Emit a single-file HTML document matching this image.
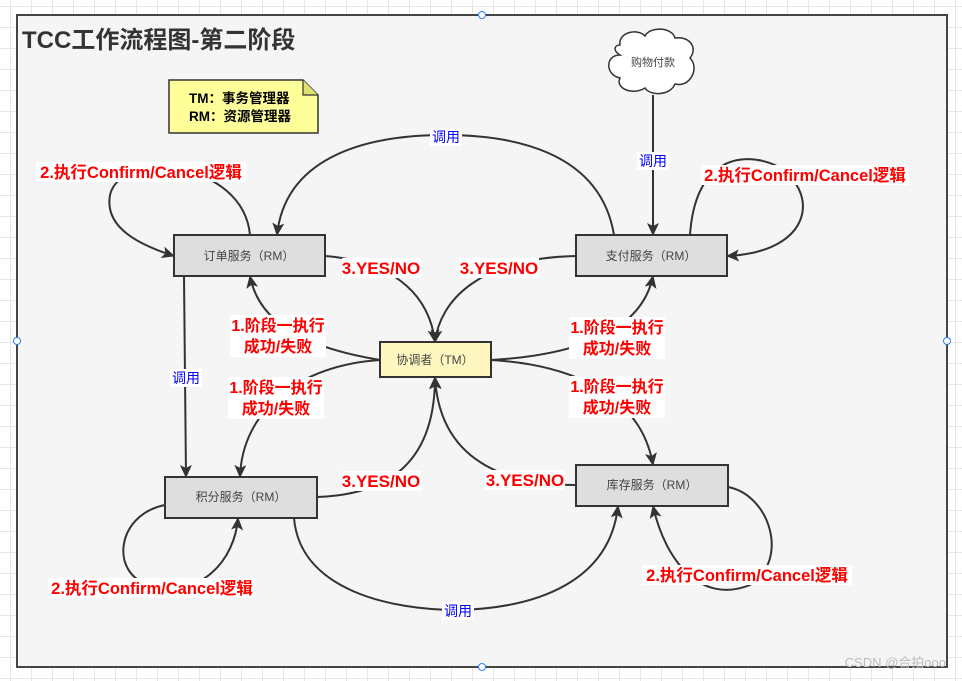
<!DOCTYPE html>
<html><head><meta charset="utf-8"><style>
html,body{margin:0;padding:0;}
body{width:962px;height:681px;overflow:hidden;background-color:#fff;
background-image:linear-gradient(#e6e6e6 1px,transparent 1px),linear-gradient(90deg,#e6e6e6 1px,transparent 1px);background-size:21px 21px;background-position:10px 6px;
font-family:"Liberation Sans","Noto Sans CJK SC",sans-serif;}
svg text{font-family:"Liberation Sans","Noto Sans CJK SC",sans-serif;}
</style></head><body>
<svg width="962" height="681" xmlns="http://www.w3.org/2000/svg" style="position:absolute;left:0;top:0">
<defs>
<marker id="a" markerWidth="14" markerHeight="12" refX="12" refY="6" orient="auto" markerUnits="userSpaceOnUse">
<path d="M0,0 L13,6 L0,12 L3,6 Z" fill="#333"/></marker>
</defs>
<rect x="17" y="15" width="930" height="652" fill="#f5f5f5" stroke="#444" stroke-width="2"/>
<circle cx="482" cy="15" r="3.5" fill="#fff" stroke="#2a7fff"/>
<circle cx="482" cy="667" r="3.5" fill="#fff" stroke="#2a7fff"/>
<circle cx="17" cy="341" r="3.5" fill="#fff" stroke="#2a7fff"/>
<circle cx="947" cy="341" r="3.5" fill="#fff" stroke="#2a7fff"/>
<text x="22" y="48" font-size="24" font-weight="bold" fill="#333">TCC工作流程图-第二阶段</text>

<!-- note -->
<path d="M169,80 L303,80 L318,95 L318,133 L169,133 Z" fill="#ffff99" stroke="#333" stroke-width="1.5"/>
<path d="M303,80 L303,95 L318,95" fill="#e0e070" stroke="#333" stroke-width="1.2"/>
<text x="189" y="103" font-size="13.5" font-weight="bold" fill="#000">TM：事务管理器</text>
<text x="189" y="121" font-size="13.5" font-weight="bold" fill="#000">RM：资源管理器</text>

<!-- cloud -->
<path d="M620,45 C618,32 638,28 645,36 C650,26 672,27 675,38 C690,36 698,48 690,58 C700,68 690,88 675,84 C670,96 650,96 645,88 C632,96 615,88 620,78 C605,75 605,55 620,55 C612,50 615,45 620,45 Z" fill="#fff" stroke="#333" stroke-width="1.5"/>
<text x="653" y="66" font-size="11" fill="#444" text-anchor="middle">购物付款</text>

<g fill="none" stroke="#333" stroke-width="2">
<path d="M250,235 C243,160 120,150 110,195 C104,228 140,245 174,256" marker-end="url(#a)"/>
<path d="M614,235 C600,150 510,135 445,135 C360,135 285,160 277,235" marker-end="url(#a)"/>
<path d="M653,95 L653,235" marker-end="url(#a)"/>
<path d="M690,235 C695,160 740,150 775,165 C820,190 815,252 727,256" marker-end="url(#a)"/>
<path d="M325,256 C400,262 430,300 435,342" marker-end="url(#a)"/>
<path d="M576,256 C480,258 440,300 435,342" marker-end="url(#a)"/>
<path d="M380,360 C320,350 260,330 250,276" marker-end="url(#a)"/>
<path d="M380,360 C300,365 242,410 240,477" marker-end="url(#a)"/>
<path d="M491,360 C580,355 642,330 653,276" marker-end="url(#a)"/>
<path d="M491,360 C580,365 642,400 653,465" marker-end="url(#a)"/>
<path d="M317,497 C380,495 435,470 435,377" marker-end="url(#a)"/>
<path d="M576,485 C520,485 440,470 435,377" marker-end="url(#a)"/>
<path d="M184,276 L186,477" marker-end="url(#a)"/>
<path d="M165,505 C115,515 110,575 150,585 C200,600 235,560 238,518" marker-end="url(#a)"/>
<path d="M294,518 C300,590 390,610 458,610 C540,608 610,580 618,506" marker-end="url(#a)"/>
<path d="M728,487 C770,495 790,560 750,585 C700,605 665,560 653,506" marker-end="url(#a)"/>
</g>

<!-- nodes -->
<g stroke="#333" stroke-width="2">
<rect x="174" y="235" width="151" height="41" fill="#dedede"/>
<rect x="576" y="235" width="151" height="41" fill="#dedede"/>
<rect x="380" y="342" width="111" height="35" fill="#fff7c0"/>
<rect x="165" y="477" width="152" height="41" fill="#dedede"/>
<rect x="576" y="465" width="152" height="41" fill="#dedede"/>
</g>
<g font-size="12" fill="#444" text-anchor="middle">
<text x="249" y="260">订单服务（RM）</text>
<text x="651" y="260">支付服务（RM）</text>
<text x="435" y="364">协调者（TM）</text>
<text x="241" y="501">积分服务（RM）</text>
<text x="652" y="489">库存服务（RM）</text>
</g>

<!-- label backgrounds -->
<g fill="#fff">
<rect x="36" y="162" width="210" height="20"/>
<rect x="701" y="165" width="208" height="20"/>
<rect x="48" y="578" width="208" height="20"/>
<rect x="642" y="565" width="210" height="20"/>
<rect x="430" y="128" width="32" height="18"/>
<rect x="637" y="152" width="32" height="18"/>
<rect x="170" y="369" width="32" height="18"/>
<rect x="442" y="602" width="32" height="18"/>
<rect x="342" y="258" width="79" height="20"/>
<rect x="459" y="258" width="80" height="20"/>
<rect x="342" y="471" width="79" height="20"/>
<rect x="485" y="470" width="80" height="20"/>
<rect x="230" y="315" width="96" height="42"/>
<rect x="569" y="317" width="96" height="42"/>
<rect x="228" y="377" width="96" height="42"/>
<rect x="569" y="376" width="96" height="42"/>
</g>
<g font-size="16.5" font-weight="bold" fill="#ff0000" text-anchor="middle">
<text x="141" y="178">2.执行Confirm/Cancel逻辑</text>
<text x="805" y="181">2.执行Confirm/Cancel逻辑</text>
<text x="152" y="594">2.执行Confirm/Cancel逻辑</text>
<text x="747" y="581">2.执行Confirm/Cancel逻辑</text>
</g>
<g font-size="17" font-weight="bold" fill="#ff0000" text-anchor="middle">
<text x="381" y="274">3.YES/NO</text>
<text x="499" y="274">3.YES/NO</text>
<text x="381" y="487">3.YES/NO</text>
<text x="525" y="486">3.YES/NO</text>
</g>
<g font-size="16" font-weight="bold" fill="#ff0000" text-anchor="middle">
<text x="278" y="331">1.阶段一执行</text><text x="278" y="352">成功/失败</text>
<text x="617" y="333">1.阶段一执行</text><text x="617" y="354">成功/失败</text>
<text x="276" y="393">1.阶段一执行</text><text x="276" y="414">成功/失败</text>
<text x="617" y="392">1.阶段一执行</text><text x="617" y="413">成功/失败</text>
</g>
<g font-size="14" fill="#0000ff" text-anchor="middle">
<text x="446" y="142">调用</text>
<text x="653" y="166">调用</text>
<text x="186" y="383">调用</text>
<text x="458" y="616">调用</text>
</g>
<text x="946" y="667" font-size="13" fill="#bbb" text-anchor="end">CSDN @合拍ooo</text>
</svg>
</body></html>
